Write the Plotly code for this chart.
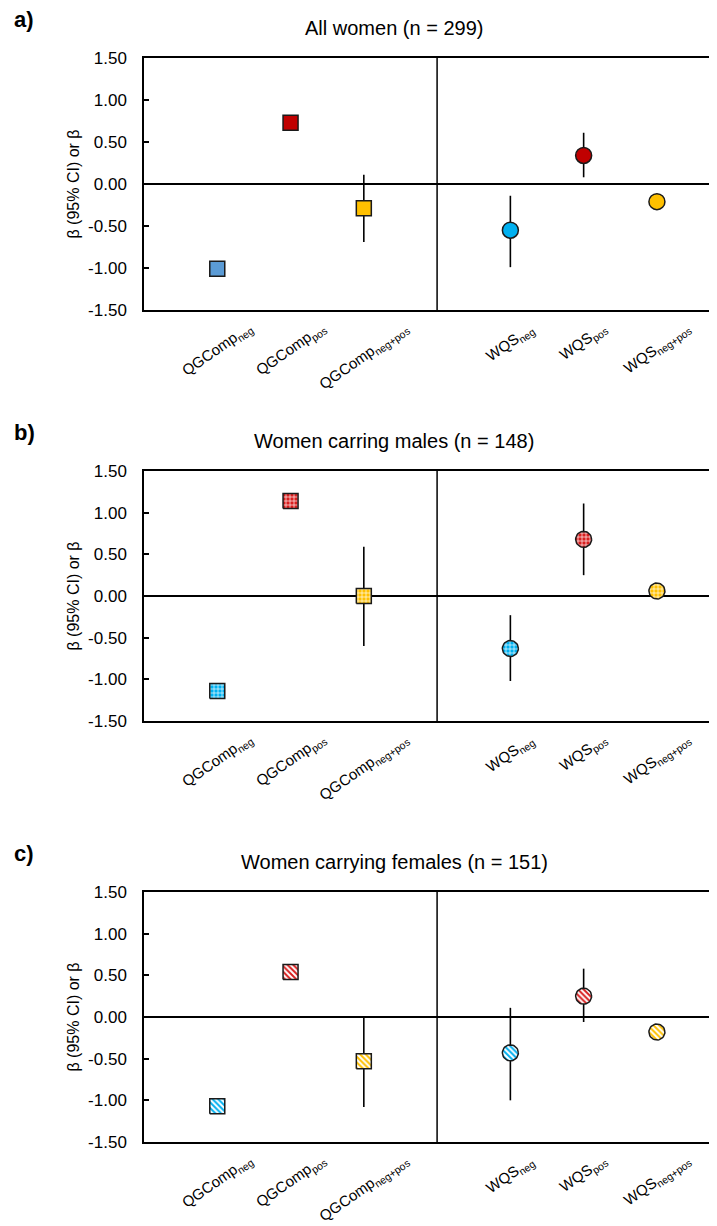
import numpy as np
import plotly.graph_objects as go
from plotly.subplots import make_subplots

# ---------------- data ----------------
panel_titles = ["All women (n = 299)", "Women carring males (n = 148)", "Women carrying females (n = 151)"]
panel_letters = ["a)", "b)", "c)"]
tick_labels = ["QGComp<sub>neg</sub>", "QGComp<sub>pos</sub>", "QGComp<sub>neg+pos</sub>",
               "WQS<sub>neg</sub>", "WQS<sub>pos</sub>", "WQS<sub>neg+pos</sub>"]
x_positions = [1, 2, 3, 5, 6, 7]
y_tick_vals = [-1.5, -1.0, -0.5, 0.0, 0.5, 1.0, 1.5]
y_tick_text = ["-1.50", "-1.00", "-0.50", "0.00", "0.50", "1.00", "1.50"]

# estimates (QGComp neg, pos, neg+pos, WQS neg, pos, neg+pos)
est_all = [-1.01, 0.73, -0.29, -0.55, 0.34, -0.21]
lo_all = [None, None, -0.69, -0.99, 0.08, None]
hi_all = [None, None, 0.11, -0.14, 0.61, None]

est_males = [-1.14, 1.14, 0.00, -0.63, 0.68, 0.06]
lo_males = [None, None, -0.60, -1.02, 0.25, None]
hi_males = [None, None, 0.59, -0.23, 1.11, None]

est_females = [-1.07, 0.54, -0.53, -0.43, 0.25, -0.18]
lo_females = [None, None, -1.08, -1.00, -0.06, None]
hi_females = [None, None, 0.01, 0.11, 0.58, None]

colors_a = ["#5B9BD5", "#C00000", "#FFC000", "#00B0F0", "#C00000", "#FFC000"]
colors_bc = ["#00B0F0", "#D81E1E", "#FFC000", "#00B0F0", "#D81E1E", "#FFC000"]
symbols = ["square", "square", "square", "circle", "circle", "circle"]

panels = [(est_all, lo_all, hi_all), (est_males, lo_males, hi_males), (est_females, lo_females, hi_females)]

# ---------------- layout constants ----------------
OFF = 8                      # page body margin
W, H = 717 - OFF, 1226 - OFF
PLOT_LEFT = 144 - OFF
XMAX = 7.82
panel_px = [(58 - OFF, 310 - OFF), (471 - OFF, 721 - OFF), (892 - OFF, 1142 - OFF)]  # top, bottom
FONT = "Liberation Sans, Arial, sans-serif"

X_PX = (W - PLOT_LEFT) / XMAX


def ydom(top, bot):
    return [(H - bot) / H, (H - top) / H]


fig = make_subplots(rows=3, cols=1)

for i, (est, lo, hi) in enumerate(panels):
    r = i + 1
    sfx = "" if r == 1 else str(r)
    top, bot = panel_px[i]
    y_px = (bot - top) / 3.0

    # CI bars
    ex, ey, ep, em = [], [], [], []
    for xv, e, l, h in zip(x_positions, est, lo, hi):
        if l is not None:
            ex.append(xv); ey.append(e); ep.append(h - e); em.append(e - l)
    fig.add_trace(go.Scatter(x=ex, y=ey, mode="markers",
                             marker=dict(size=1, color="rgba(0,0,0,0)"),
                             error_y=dict(type="data", symmetric=False, array=ep, arrayminus=em,
                                          width=0, thickness=1.6, color="black"),
                             hoverinfo="skip", showlegend=False), row=r, col=1)

    if i == 0:
        for xv, e, c, s in zip(x_positions, est, colors_a, symbols):
            fig.add_trace(go.Scatter(x=[xv], y=[e], mode="markers",
                                     marker=dict(symbol=s, size=15 if s == "square" else 16, color=c,
                                                 line=dict(color="#1a1a1a", width=1.5)),
                                     showlegend=False), row=r, col=1)
    else:
        shape = "+" if i == 1 else "\\"
        psize = 4
        sol = 0.3 if i == 1 else 0.5
        for xv, e, c, s in zip(x_positions, est, colors_bc, symbols):
            if s == "square":
                hx = 7.5 / X_PX
                hy = 7.5 / y_px
                px = [xv - hx, xv + hx, xv + hx, xv - hx, xv - hx]
                py = [e - hy, e - hy, e + hy, e + hy, e - hy]
            else:
                t = np.linspace(0, 2 * np.pi, 41)
                px = list(xv + 8 / X_PX * np.cos(t))
                py = list(e + 8 / y_px * np.sin(t))
            fig.add_trace(go.Scatter(x=px, y=py, mode="lines", fill="toself",
                                     fillcolor=c,
                                     fillpattern=dict(shape=shape, fgcolor="white", bgcolor=c,
                                                      size=psize, solidity=sol, fillmode="replace"),
                                     line=dict(color="#1a1a1a", width=1.5),
                                     hoverinfo="skip", showlegend=False), row=r, col=1)

    fig.update_layout(**{
        f"xaxis{sfx}": dict(domain=[PLOT_LEFT / W, 1], range=[0, XMAX], tickvals=x_positions,
                            showticklabels=False, ticks="", showline=True, mirror=True,
                            linecolor="black", linewidth=1.5,
                            showgrid=False, zeroline=False, automargin=False),
        f"yaxis{sfx}": dict(domain=ydom(top, bot), range=[-1.5, 1.5], tickvals=y_tick_vals,
                            ticktext=y_tick_text,
                            ticks="inside", ticklen=5, tickwidth=1.5, tickcolor="black",
                            showline=True, linecolor="black", linewidth=1.5, mirror=False,
                            showgrid=False, zeroline=True, zerolinecolor="black", zerolinewidth=1.5,
                            tickfont=dict(family=FONT, size=17, color="black"), ticklabelstandoff=12,
                            title=dict(text="β (95% CI) or β",
                                       font=dict(family=FONT, size=16, color="black"), standoff=4),
                            automargin=False),
    })
    fig.add_shape(type="line", xref=f"x{sfx}", yref=f"y{sfx} domain",
                  x0=4, x1=4, y0=0, y1=1, line=dict(color="black", width=1.5))

    # rotated category labels, centred under each position
    for xv, lab in zip(x_positions, tick_labels):
        fig.add_annotation(text=lab, xref=f"x{sfx}", yref=f"y{sfx} domain", x=xv, y=0,
                           xanchor="center", yanchor="top", yshift=-6, textangle=-35,
                           showarrow=False, font=dict(family=FONT, size=15, color="black"))

    # panel title and letter
    fig.add_annotation(text=panel_titles[i], xref="paper", yref="paper", x=(394 - OFF) / W,
                       y=(H - (top - 30)) / H,
                       xanchor="center", yanchor="middle", showarrow=False,
                       font=dict(family=FONT, size=20, color="black"))
    fig.add_annotation(text=f"<b>{panel_letters[i]}</b>", xref="paper", yref="paper", x=(24 - OFF) / W,
                       y=(H - (top - 38)) / H, xanchor="center", yanchor="middle", showarrow=False,
                       font=dict(family=FONT, size=22, color="black"))

fig.update_layout(width=W, height=H, margin=dict(l=0, r=0, t=0, b=0),
                  plot_bgcolor="white", paper_bgcolor="white", showlegend=False)

fig.write_html("out.html")
